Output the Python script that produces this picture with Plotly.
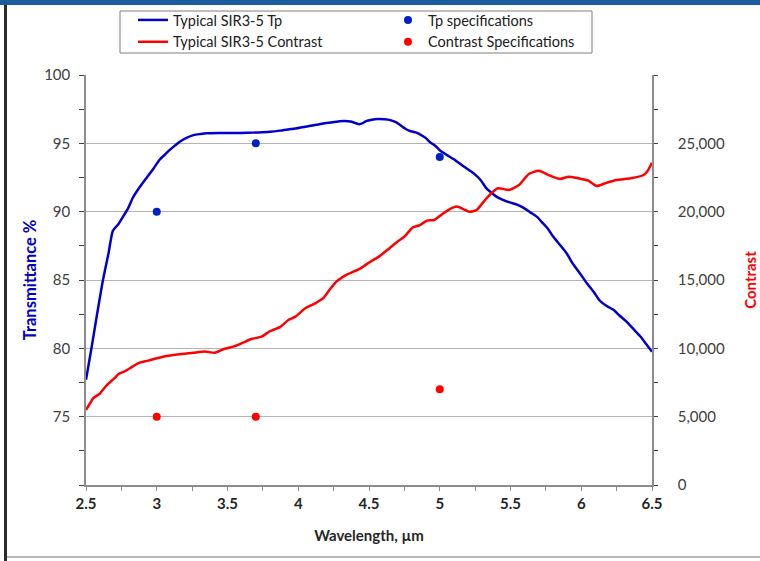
import plotly.graph_objects as go

# ---------------- data ----------------
tp_wavelength = [2.50, 2.54, 2.58, 2.62, 2.66, 2.69, 2.73, 2.76, 2.80, 2.83, 2.88, 2.93, 2.98,
                 3.02, 3.06, 3.09, 3.13, 3.16, 3.21, 3.26, 3.31, 3.35, 3.45, 3.55, 3.64, 3.72,
                 3.80, 3.87, 3.95, 3.99, 4.07, 4.15, 4.23, 4.32, 4.37, 4.40, 4.43, 4.46, 4.48,
                 4.52, 4.56, 4.61, 4.65, 4.69, 4.72, 4.76, 4.79, 4.83, 4.86, 4.90, 4.93, 4.97,
                 5.00, 5.05, 5.10, 5.17, 5.24, 5.29, 5.33, 5.37, 5.40, 5.45, 5.50, 5.55, 5.59,
                 5.64, 5.69, 5.72, 5.76, 5.80, 5.85, 5.90, 5.94, 5.99, 6.04, 6.09, 6.13, 6.18,
                 6.23, 6.27, 6.32, 6.37, 6.42, 6.46, 6.50]
tp_values = [77.7, 80.1, 82.6, 85.0, 87.0, 88.6, 89.1, 89.6, 90.3, 91.0, 91.8, 92.5, 93.2,
             93.8, 94.2, 94.5, 94.85, 95.1, 95.4, 95.6, 95.68, 95.73, 95.75, 95.76, 95.77, 95.8,
             95.85, 95.93, 96.05, 96.1, 96.25, 96.4, 96.52, 96.63, 96.6, 96.5, 96.4, 96.5, 96.63,
             96.73, 96.78, 96.76, 96.7, 96.55, 96.34, 96.05, 95.9, 95.8, 95.66, 95.4, 95.1, 94.8,
             94.5, 94.15, 93.83, 93.3, 92.8, 92.3, 91.7, 91.35, 91.1, 90.85, 90.66, 90.5, 90.3,
             89.95, 89.6, 89.25, 88.8, 88.2, 87.56, 86.9, 86.2, 85.5, 84.76, 84.1, 83.5, 83.1,
             82.8, 82.4, 81.95, 81.4, 80.85, 80.3, 79.75]

contrast_wavelength = [2.50, 2.53, 2.55, 2.60, 2.63, 2.66, 2.70, 2.73, 2.77, 2.81, 2.85, 2.88,
                       2.94, 3.00, 3.07, 3.16, 3.26, 3.34, 3.41, 3.47, 3.54, 3.61, 3.67, 3.74,
                       3.80, 3.87, 3.93, 3.98, 4.05, 4.12, 4.18, 4.22, 4.27, 4.34, 4.44, 4.51,
                       4.57, 4.63, 4.70, 4.75, 4.81, 4.86, 4.91, 4.96, 5.01, 5.06, 5.12, 5.17,
                       5.21, 5.26, 5.33, 5.41, 5.49, 5.56, 5.63, 5.70, 5.77, 5.85, 5.91, 5.98,
                       6.05, 6.11, 6.18, 6.25, 6.35, 6.44, 6.47, 6.50]
contrast_values = [5490, 6000, 6340, 6710, 7100, 7440, 7800, 8120, 8300, 8540, 8800, 8950,
                   9100, 9270, 9440, 9560, 9680, 9760, 9680, 9930, 10120, 10420, 10680, 10850,
                   11250, 11550, 12070, 12320, 12930, 13290, 13710, 14270, 14880, 15370, 15850, 16340,
                   16710, 17200, 17800, 18170, 18850, 19020, 19340, 19390, 19760, 20120, 20370, 20170,
                   20000, 20120, 20980, 21710, 21590, 21950, 22760, 23000, 22680, 22390, 22560, 22440,
                   22270, 21880, 22120, 22320, 22440, 22680, 23000, 23580]

tp_spec_wavelength = [3.0, 3.7, 5.0]
tp_spec_values = [90, 95, 94]
contrast_spec_wavelength = [3.0, 3.7, 5.0]
contrast_spec_values = [5000, 5000, 7000]

x_ticks = [2.5, 3, 3.5, 4, 4.5, 5, 5.5, 6, 6.5]
x_tick_labels = ["2.5", "3", "3.5", "4", "4.5", "5", "5.5", "6", "6.5"]
tp_ticks = [75, 80, 85, 90, 95, 100]
contrast_ticks = [0, 5000, 10000, 15000, 20000, 25000]
contrast_tick_labels = ["0", "5,000", "10,000", "15,000", "20,000", "25,000"]

# ---------------- style ----------------
FONT = "Lato, 'Open Sans', sans-serif"
BLUE = "#0000CC"
RED = "#FF0000"
AXIS_GRAY = "#8C8C8C"
TXT = "#404040"

W, H = 760, 561
L, R, T, B = 86, 108, 75, 76
PW, PH = W - L - R, H - T - B


def px_x(p):
    return (p - L) / PW


def px_y(p):
    return (H - B - p) / PH


fig = go.Figure()

fig.add_trace(go.Scatter(
    x=tp_wavelength, y=tp_values, mode="lines", name="Typical SIR3-5 Tp",
    line=dict(color=BLUE, width=2.5, shape="spline", smoothing=0.6),
    legend="legend", yaxis="y"))
fig.add_trace(go.Scatter(
    x=contrast_wavelength, y=contrast_values, mode="lines", name="Typical SIR3-5 Contrast",
    line=dict(color=RED, width=2.5, shape="spline", smoothing=0.6),
    legend="legend", yaxis="y2"))
fig.add_trace(go.Scatter(
    x=tp_spec_wavelength, y=tp_spec_values, mode="markers", name="Tp specifications",
    marker=dict(color="#0020C8", size=8), legend="legend2", yaxis="y"))
fig.add_trace(go.Scatter(
    x=contrast_spec_wavelength, y=contrast_spec_values, mode="markers",
    name="Contrast Specifications",
    marker=dict(color=RED, size=8), legend="legend2", yaxis="y2"))

shapes = [
    # top dark-blue band
    dict(type="rect", xref="paper", yref="paper", x0=px_x(0), x1=px_x(W),
         y0=px_y(5), y1=px_y(0), fillcolor="#1B5C9E", line=dict(width=0), layer="above"),
    # left dark frame line
    dict(type="rect", xref="paper", yref="paper", x0=px_x(4), x1=px_x(7),
         y0=px_y(H), y1=px_y(5), fillcolor="#2B2B2B", line=dict(width=0), layer="above"),
    # bottom gray line
    dict(type="line", xref="paper", yref="paper", x0=px_x(7), x1=px_x(W),
         y0=px_y(557), y1=px_y(557), line=dict(color="#A0A0A0", width=1.5)),
    # legend frame
    dict(type="rect", xref="paper", yref="paper", x0=px_x(120), x1=px_x(592),
         y0=px_y(53), y1=px_y(11), line=dict(color="#7F7F7F", width=1),
         fillcolor="rgba(0,0,0,0)"),
]

fig.update_layout(
    width=W, height=H,
    margin=dict(l=L, r=R, t=T, b=B, pad=0, autoexpand=False),
    paper_bgcolor="white", plot_bgcolor="white",
    font=dict(family=FONT, color=TXT, size=14),
    shapes=shapes,
    showlegend=True,
    legend=dict(x=px_x(133), y=px_y(4), xanchor="left", yanchor="top",
                orientation="v", bgcolor="rgba(0,0,0,0)", borderwidth=0,
                font=dict(family=FONT, size=14.5, color="#202020"),
                itemwidth=30, tracegroupgap=0),
    legend2=dict(x=px_x(388), y=px_y(4), xanchor="left", yanchor="top",
                 orientation="v", bgcolor="rgba(0,0,0,0)", borderwidth=0,
                 font=dict(family=FONT, size=14.5, color="#202020"),
                 itemwidth=30, tracegroupgap=0),
    xaxis=dict(
        range=[2.5, 6.5], tickvals=x_ticks, ticktext=x_tick_labels,
        showgrid=False, zeroline=False, showline=True, linecolor=AXIS_GRAY, linewidth=1.5,
        ticks="outside", ticklen=4, tickcolor=AXIS_GRAY, tickwidth=1,
        minor=dict(dtick=0.25, ticks="outside", ticklen=4, tickcolor=AXIS_GRAY),
        tickfont=dict(family=FONT, size=15, color="#262626", weight="bold"),
        title=dict(text="Wavelength, µm", standoff=20,
                   font=dict(family=FONT, size=15, color="#262626", weight="bold")),
        fixedrange=True,
    ),
    yaxis=dict(
        range=[70, 100], tickvals=tp_ticks,
        showgrid=True, gridcolor="#B4B4B4", gridwidth=1.2, zeroline=False,
        showline=True, linecolor=AXIS_GRAY, linewidth=1.5,
        ticks="outside", ticklen=5, tickcolor="#404040", tickwidth=1,
        minor=dict(dtick=2.5, ticks="outside", ticklen=5, tickcolor="#404040", showgrid=False),
        tickfont=dict(family=FONT, size=15, color=TXT),
        ticklabelstandoff=6,
        title=dict(text="Transmittance %", standoff=3,
                   font=dict(family=FONT, size=16.5, color=BLUE, weight="bold")),
        fixedrange=True,
    ),
    yaxis2=dict(
        range=[0, 30000], tickvals=contrast_ticks, ticktext=contrast_tick_labels,
        overlaying="y", side="right", showgrid=False, zeroline=False,
        showline=True, linecolor=AXIS_GRAY, linewidth=1.5,
        ticks="outside", ticklen=4, tickcolor="#404040", tickwidth=1,
        minor=dict(dtick=2500, ticks="outside", ticklen=4, tickcolor="#404040"),
        tickfont=dict(family=FONT, size=15, color=TXT),
        ticklabelstandoff=17,
        title=dict(text="Contrast", standoff=22,
                   font=dict(family=FONT, size=15, color=RED, weight="bold")),
        fixedrange=True,
    ),
)

fig.write_html(
    "out.html",
    config={"displayModeBar": False},
    post_script="document.body.style.margin='0';document.body.style.overflow='hidden';",
)
